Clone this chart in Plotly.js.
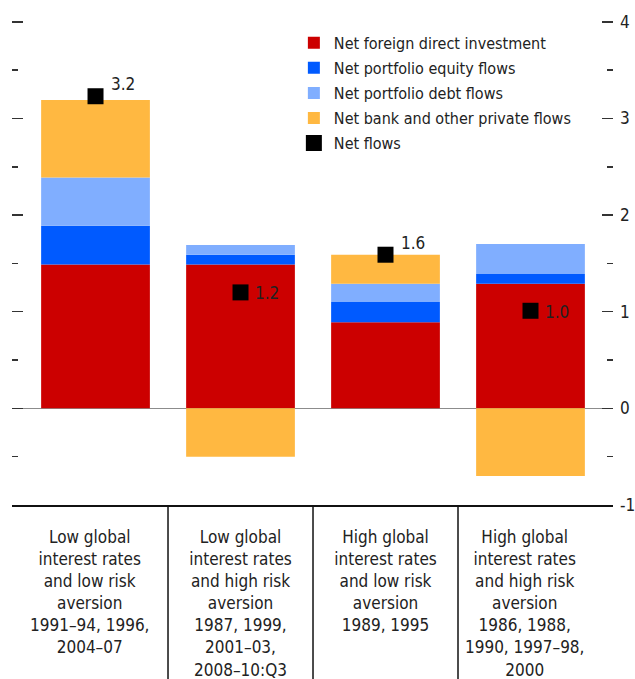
<!DOCTYPE html>
<html>
<head>
<meta charset="utf-8">
<script src="https://cdn.plot.ly/plotly-3.0.1.min.js"></script>
<style>
  html, body { margin: 0; padding: 0; background: #fff; }
  #chart { width: 635px; height: 679px; }
</style>
</head>
<body>
<div id="chart"></div>
<script>
// Regimes (x axis categories)
const regimes = [
    'Low global<br>interest rates<br>and low risk<br>aversion<br>1991–94, 1996,<br>2004–07',
    'Low global<br>interest rates<br>and high risk<br>aversion<br>1987, 1999,<br>2001–03,<br>2008–10:Q3',
    'High global<br>interest rates<br>and low risk<br>aversion<br>1989, 1995',
    'High global<br>interest rates<br>and high risk<br>aversion<br>1986, 1988,<br>1990, 1997–98,<br>2000'
];
const positions = [0, 1, 2, 3];
// label columns are centred in the table cells, not exactly under the bars
const labelCenters = [-0.04, 1, 2, 2.96];

// Flow components (stacked)
const fdiFlows = [1.49, 1.49, 0.89, 1.29];
const equityFlows = [0.40, 0.10, 0.21, 0.10];
const debtFlows = [0.50, 0.10, 0.19, 0.31];
const bankFlows = [0.80, -0.50, 0.30, -0.70];
const netFlows = [3.23, 1.20, 1.59, 1.01];
const netLabelAbove = [true, false, true, false];

// y axis ticks
const yTickVals = [-1, 0, 1, 2, 3, 4];
const yTickText = ['-1', '0', '1', '2', '3', '4'];
const yMinorVals = [-0.5, 0.5, 1.5, 2.5, 3.5];

const FONT = '"Liberation Sans Narrow", "DejaVu Sans Condensed", "Arial Narrow", sans-serif';

function barTrace(name, values, color) {
    return {
        type: 'bar',
        name: name,
        legendgroup: name,
        x: positions,
        y: values,
        marker: { color: color, line: { width: 0 } },
        hoverinfo: 'name+y'
    };
}

const traces = [
    barTrace('Net foreign direct investment', fdiFlows, '#cc0000'),
    barTrace('Net portfolio equity flows', equityFlows, '#005aff'),
    barTrace('Net portfolio debt flows', debtFlows, '#80aeff'),
    barTrace('Net bank and other private flows', bankFlows, '#ffb841'),
    {
        type: 'scatter',
        mode: 'markers',
        name: 'Net flows',
        legendgroup: 'net',
        x: positions,
        y: netFlows,
        marker: { symbol: 'square', size: 16, color: '#000' },
        cliponaxis: false
    }
];

// value labels next to the net flow markers
const netLabels = netFlows.map((v, i) => ({
    x: positions[i],
    y: v,
    xref: 'x', yref: 'y',
    text: v.toFixed(1),
    showarrow: false,
    xanchor: 'left',
    yanchor: 'middle',
    xshift: netLabelAbove[i] ? 13 : 12,
    yshift: netLabelAbove[i] ? 12 : -1,
    font: { family: FONT, size: 17, color: '#222' }
}));

// vertical dividers of the category table below the plot
const dividers = [0.5, 1.5, 2.5].map(x => ({
    type: 'line',
    xref: 'x', yref: 'paper',
    x0: x, x1: x, y0: 0, y1: -0.4,
    line: { color: '#111', width: 1.5 }
}));

const layout = {
    width: 635,
    height: 679,
    margin: { l: 12, r: 22, t: 17, b: 174 },
    paper_bgcolor: '#fff',
    plot_bgcolor: '#fff',
    font: { family: FONT, size: 17, color: '#222' },
    barmode: 'relative',
    bargap: 0.25,
    showlegend: true,
    legend: {
        x: 0.469, y: 0.982, xanchor: 'left', yanchor: 'top',
        traceorder: 'grouped',
        bgcolor: 'rgba(0,0,0,0)',
        font: { family: FONT, size: 16, color: '#222' },
        itemwidth: 30,
        tracegroupgap: 1.3
    },
    xaxis: {
        range: [-0.576, 3.569],
        tickmode: 'array',
        tickvals: labelCenters,
        ticktext: regimes,
        ticks: '',
        ticklabelstandoff: 16,
        showgrid: false,
        zeroline: false,
        showline: true,
        linecolor: '#111',
        linewidth: 1.5,
        tickfont: { family: FONT, size: 17, color: '#222' },
        fixedrange: true
    },
    yaxis: {
        range: [-1, 4.05],
        side: 'right',
        tickmode: 'array',
        tickvals: yTickVals,
        ticktext: yTickText,
        ticks: 'inside',
        ticklen: 11,
        tickwidth: 1.5,
        tickcolor: '#333',
        ticklabelstandoff: 6,
        mirror: 'ticks',
        showline: false,
        showgrid: false,
        zeroline: true,
        zerolinecolor: '#8c8c8c',
        zerolinewidth: 1.5,
        minor: {
            tickmode: 'array',
            tickvals: yMinorVals,
            ticks: 'inside',
            ticklen: 6,
            tickwidth: 1.5,
            tickcolor: '#333',
            showgrid: false
        },
        tickfont: { family: FONT, size: 17, color: '#222' },
        fixedrange: true
    },
    shapes: dividers,
    annotations: netLabels
};

Plotly.newPlot('chart', traces, layout, { displayModeBar: false, staticPlot: true });
</script>
</body>
</html>
